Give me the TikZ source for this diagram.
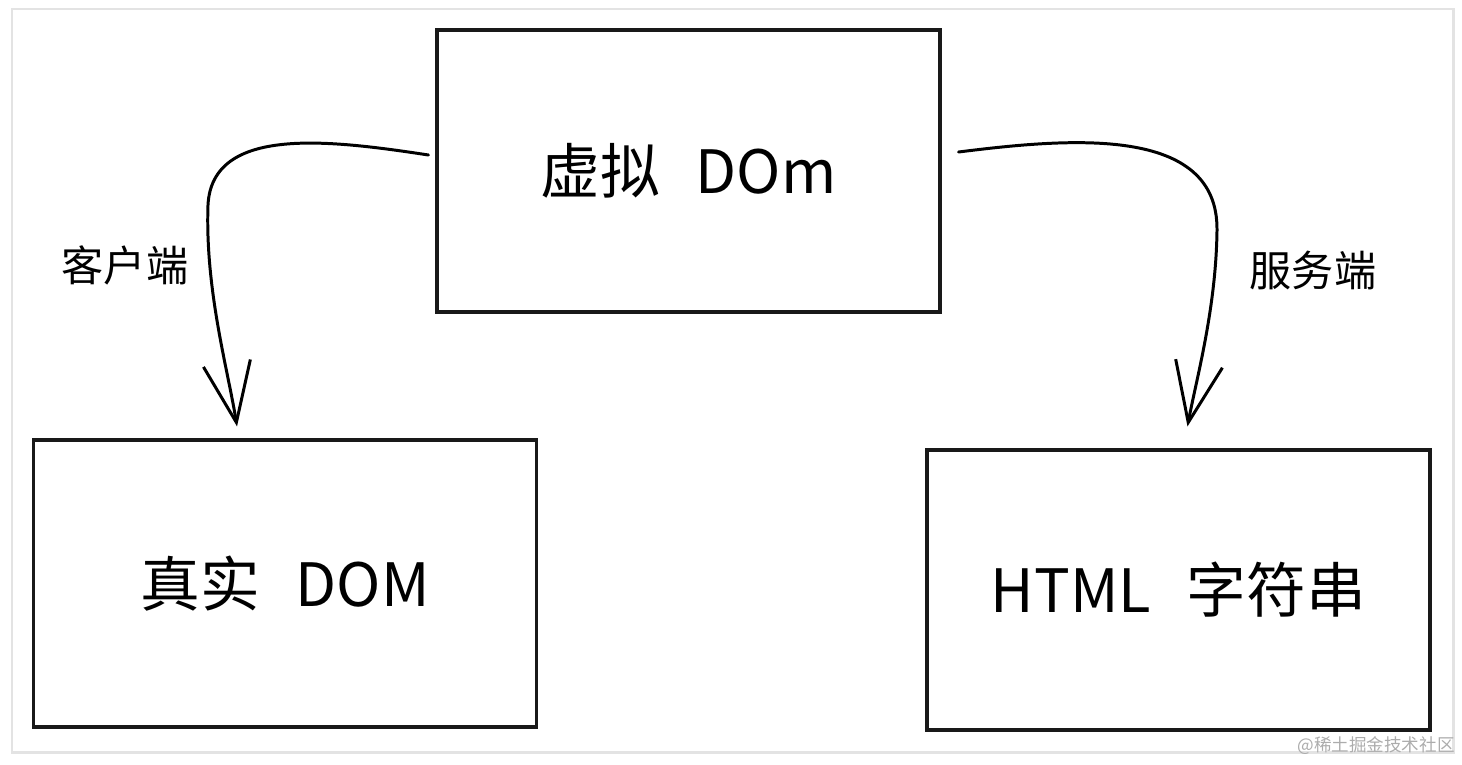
\documentclass[tikz,border=0pt]{standalone}
\usepackage{fontspec}
\setmainfont{Noto Sans CJK SC}
\usetikzlibrary{arrows.meta,positioning,calc}
\tikzstyle{frame} = [draw=gray!22, line width=1.7pt]
\tikzstyle{box} = [rectangle, draw=black!90, line width=1.8pt, minimum width=10.06cm, minimum height=5.64cm, text centered, font=\fontsize{34}{38}\selectfont]
\tikzstyle{flow} = [line width=1.7pt, line cap=round, -{Straight Barb[length=1.2cm, width=0.95cm, line width=1.7pt]}]
\tikzstyle{sidetext} = [font=\fontsize{24}{28}\selectfont]
\tikzstyle{wmtext} = [text=gray!65, font=\fontsize{10}{12}\selectfont, inner sep=0pt]

\begin{document}
\begin{tikzpicture}[x=0.02cm, y=-0.02cm]
\useasboundingbox (0,0) rectangle (1462,764);

% outer frame
\draw[frame] (12,9) rectangle (1453,752);

% Virtual DOM
\node[box] (virt) at (688.5,171) {虚拟\hspace{0.6em}DOm};

% Real DOM
\node[box, minimum height=5.74cm] (real) at (285,583.5) {真实\hspace{0.6em}DOM};

% HTML string
\node[box, minimum height=5.6cm] (html) at (1178.5,590) {HTML\hspace{0.6em}字符串};

% client side
\draw[flow] ([xshift=-0.14cm, yshift=0.32cm]virt.west) .. controls (330,140) and (212,125) .. (208,205)
  .. controls (205,290) and (228,370) .. ([xshift=-0.96cm, yshift=0.24cm]real.north);
\node[sidetext] (client) at (125,265) {客户端};

% server side
\draw[flow] ([xshift=0.34cm, yshift=0.38cm]virt.east) .. controls (1070,138) and (1218,125) .. (1217,230)
  .. controls (1216,310) and (1196,380) .. ([xshift=0.18cm, yshift=0.44cm]html.north);
\node[sidetext] (server) at (1313,270) {服务端};

% watermark
\node[wmtext] (wm) at (1376,746) {@稀土掘金技术社区};

\end{tikzpicture}
\end{document}
